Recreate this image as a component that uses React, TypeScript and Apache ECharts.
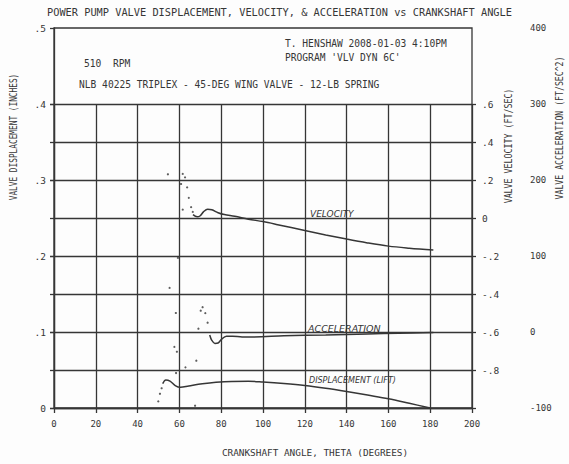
import React, { useEffect, useRef } from "react";
import * as echarts from "echarts";

// ---- data (crankshaft angle in degrees) ----
const xTickValues = [0, 20, 40, 60, 80, 100, 120, 140, 160, 180, 200];

const dispCurveTheta = [52, 53.5, 55.5, 58, 60.5, 64.5, 71, 77.5, 85, 93, 100, 110, 120, 130, 140, 150, 160, 170, 180];
const dispCurveLift = [0.032, 0.037, 0.0355, 0.0295, 0.0272, 0.029, 0.0318, 0.0338, 0.035, 0.0352, 0.0342, 0.0322, 0.0296, 0.026, 0.0217, 0.017, 0.0122, 0.0062, 0];

const velCurveTheta = [66.5, 68.5, 70, 71.5, 73.5, 75.5, 78.5, 81.5, 86.5, 93, 100, 107, 120, 130, 140, 150, 160, 170, 181.5];
const velCurveValue = [0.018, 0.006, 0.012, 0.032, 0.046, 0.043, 0.028, 0.018, 0.009, -0.006, -0.019, -0.035, -0.066, -0.089, -0.111, -0.131, -0.148, -0.159, -0.169];

const accCurveTheta = [74.5, 75.5, 77, 78.5, 80, 82.5, 85.5, 90, 95, 110, 130, 150, 165, 181.5];
const accCurveValue = [-4, -11, -15, -14.5, -10, -5.5, -5.5, -6.5, -6.5, -5, -3.8, -2.5, -1.5, -0.8];

const velDotsTheta = [54.5, 61.6, 62.7, 60.8, 63.7, 64.5, 61.6, 65.6, 66.4, 59.3];
const velDotsValue = [0.23, 0.232, 0.214, 0.179, 0.161, 0.106, 0.044, 0.057, 0.032, -0.21];

const accDotsTheta = [55.3, 58.3, 71.1, 70.2, 72.4, 73.5, 69.1, 57.6, 58.8, 68.1, 62.9, 58.4];
const accDotsValue = [58, 25, 32.6, 28, 24.8, 12.2, 4.3, -19.6, -26, -37.8, -46.5, -54];

const dispDotsTheta = [49.9, 50.7, 51.5, 67.5];
const dispDotsLift = [0.0087, 0.0187, 0.026, 0.003];

// ---- texts ----
const TITLE = "POWER PUMP VALVE DISPLACEMENT, VELOCITY, & ACCELERATION vs CRANKSHAFT ANGLE";
const NOTE_AUTHOR = "T. HENSHAW 2008-01-03 4:10PM";
const NOTE_PROGRAM = "PROGRAM 'VLV DYN 6C'";
const NOTE_RPM = "510  RPM";
const NOTE_PUMP = "NLB 40225 TRIPLEX - 45-DEG WING VALVE - 12-LB SPRING";
const X_NAME = "CRANKSHAFT ANGLE, THETA (DEGREES)";
const DISP_NAME = "VALVE DISPLACEMENT (INCHES)";
const VEL_NAME = "VALVE VELOCITY (FT/SEC)";
const ACC_NAME = "VALVE ACCELERATION (FT/SEC^2)";
const LBL_VEL = "VELOCITY";
const LBL_ACC = "ACCELERATION";
const LBL_DISP = "DISPLACEMENT (LIFT)";

const INK = "#363636";
const MONO = '"DejaVu Sans Mono", "Liberation Mono", monospace';
const HAND = '"DejaVu Sans", sans-serif';

const zip = (a: number[], b: number[]) => a.map((v, i) => [v, b[i]]);

const fmtDisp = (v: number) => {
  const n = Math.round(v * 10);
  return n === 0 ? "0" : "." + n;
};
const fmtVel = (v: number) => {
  const n = Math.round(v * 10);
  if (n === -10) return "";
  if (n === 0) return "0";
  return (n < 0 ? "-" : "") + "." + Math.abs(n);
};

export default function App() {
  const ref = useRef<HTMLDivElement>(null);
  useEffect(() => {
    if (!ref.current) return;
    const chart = echarts.init(ref.current, undefined, { renderer: "svg" });
    const lineStyle = { color: INK, width: 1.3 };
    const lbl = { fontFamily: MONO, fontSize: 9, color: INK };
    const txt = (text: string, x: number, y: number, extra: any = {}) => ({
      type: "text",
      x,
      y,
      ...extra,
      style: {
        text,
        fontFamily: MONO,
        fontSize: 9.6,
        fill: INK,
        textVerticalAlign: "middle",
        ...(extra.style || {}),
      },
    });
    const option: any = {
      animation: false,
      backgroundColor: "#fdfdfd",
      title: {
        text: TITLE,
        left: 42,
        top: 2,
        textStyle: { fontFamily: MONO, fontSize: 10.3, fontWeight: "normal", color: INK },
      },
      grid: [
        { left: 54, right: 97, top: 28, bottom: 56, show: true, borderColor: INK, borderWidth: 1.3, backgroundColor: "transparent" },
        { left: 54, right: 97, top: 104, bottom: 56, show: false },
      ],
      xAxis: [
        {
          gridIndex: 0,
          type: "value",
          min: xTickValues[0],
          max: xTickValues[xTickValues.length - 1],
          interval: xTickValues[1] - xTickValues[0],
          axisLine: { show: true, lineStyle },
          axisTick: { show: true, length: 5, lineStyle },
          axisLabel: { ...lbl, margin: 11 },
          splitLine: { show: false },
        },
        {
          gridIndex: 1,
          type: "value",
          min: xTickValues[0],
          max: xTickValues[xTickValues.length - 1],
          interval: xTickValues[1] - xTickValues[0],
          axisLine: { show: false },
          axisTick: { show: false },
          axisLabel: { show: false },
          splitLine: { show: true, lineStyle },
        },
      ],
      yAxis: [
        {
          gridIndex: 0,
          type: "value",
          position: "left",
          min: 0,
          max: 0.5,
          interval: 0.1,
          axisLine: { show: true, lineStyle },
          axisTick: { show: true, length: 4, lineStyle },
          axisLabel: { ...lbl, fontSize: 9.5, margin: 8, formatter: fmtDisp },
          splitLine: { show: false },
        },
        {
          gridIndex: 0,
          type: "value",
          position: "right",
          offset: 50,
          min: -100,
          max: 400,
          interval: 100,
          axisLine: { show: false },
          axisTick: { show: false },
          axisLabel: { ...lbl, margin: 8 },
          splitLine: { show: false },
        },
        {
          gridIndex: 1,
          type: "value",
          position: "left",
          min: 0,
          max: 0.4,
          interval: 0.05,
          axisLine: { show: false },
          axisTick: { show: true, length: 4, lineStyle },
          axisLabel: { show: false },
          splitLine: { show: true, lineStyle },
        },
        {
          gridIndex: 1,
          type: "value",
          position: "right",
          min: -1,
          max: 0.6,
          interval: 0.2,
          axisLine: { show: false },
          axisTick: { show: true, length: 4, lineStyle },
          axisLabel: { ...lbl, fontSize: 9.5, margin: 10, formatter: fmtVel },
          splitLine: { show: false },
        },
      ],
      series: [
        {
          type: "line",
          xAxisIndex: 0,
          yAxisIndex: 0,
          data: zip(dispCurveTheta, dispCurveLift),
          showSymbol: false,
          smooth: 0.35,
          lineStyle: { color: INK, width: 1.5 },
          z: 5,
        },
        {
          type: "line",
          xAxisIndex: 1,
          yAxisIndex: 3,
          data: zip(velCurveTheta, velCurveValue),
          showSymbol: false,
          smooth: 0.35,
          lineStyle: { color: INK, width: 1.5 },
          z: 5,
        },
        {
          type: "line",
          xAxisIndex: 0,
          yAxisIndex: 1,
          data: zip(accCurveTheta, accCurveValue),
          showSymbol: false,
          smooth: 0.35,
          lineStyle: { color: INK, width: 1.5 },
          z: 5,
        },
        {
          type: "scatter",
          xAxisIndex: 0,
          yAxisIndex: 0,
          data: zip(dispDotsTheta, dispDotsLift),
          symbolSize: 2.2,
          itemStyle: { color: INK },
          z: 6,
        },
        {
          type: "scatter",
          xAxisIndex: 1,
          yAxisIndex: 3,
          data: zip(velDotsTheta, velDotsValue),
          symbolSize: 2.2,
          itemStyle: { color: INK },
          z: 6,
        },
        {
          type: "scatter",
          xAxisIndex: 0,
          yAxisIndex: 1,
          data: zip(accDotsTheta, accDotsValue),
          symbolSize: 2.2,
          itemStyle: { color: INK },
          z: 6,
        },
      ],
      graphic: [
        txt(NOTE_AUTHOR, 285, 43),
        txt(NOTE_PROGRAM, 285, 57),
        txt(NOTE_RPM, 84, 63),
        txt(NOTE_PUMP, 79, 84),
        txt(X_NAME, 315, 452, { style: { textAlign: "center", fontSize: 9.4 } }),
        txt(DISP_NAME, 14, 137, { rotation: Math.PI / 2, scaleX: 0.78, style: { textAlign: "center", fontSize: 10 } }),
        txt(VEL_NAME, 508, 146, { rotation: Math.PI / 2, scaleX: 0.83, style: { textAlign: "center", fontSize: 10 } }),
        txt(ACC_NAME, 560, 128, { rotation: Math.PI / 2, scaleX: 0.82, style: { textAlign: "center", fontSize: 10 } }),
        txt(LBL_VEL, 310, 214, { style: { fontFamily: HAND, fontStyle: "italic", fontSize: 9 } }),
        txt(LBL_ACC, 308, 328, { style: { fontFamily: HAND, fontStyle: "italic", fontSize: 9.5 } }),
        txt(LBL_DISP, 309, 380, { style: { fontFamily: HAND, fontStyle: "italic", fontSize: 8 } }),
      ],
    };
    chart.setOption(option);
    return () => chart.dispose();
  }, []);
  return (
    <div
      ref={ref}
      style={{ position: "absolute", left: 0, top: 0, width: 569, height: 464 }}
    />
  );
}
